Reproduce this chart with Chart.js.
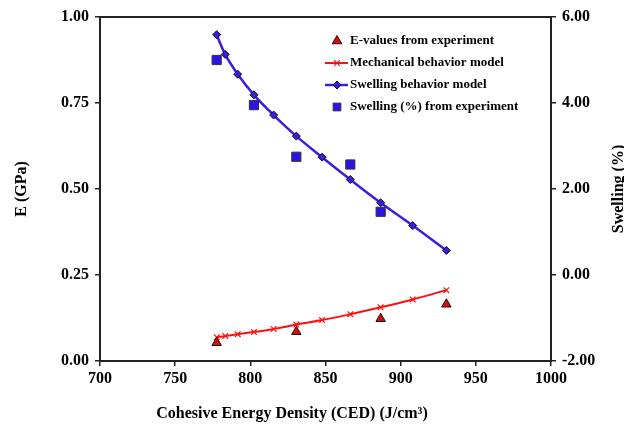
<!DOCTYPE html>
<html>
<head>
<meta charset="utf-8">
<script src="https://cdn.jsdelivr.net/npm/chart.js@4.4.0/dist/chart.umd.min.js"></script>
<style>
    html, body { margin: 0; padding: 0; background: #fff; }
    #wrap { width: 624px; height: 431px; }
</style>
</head>
<body>
<div id="wrap"><canvas id="myChart"></canvas></div>
<script>
// CED values (J/cm3) where both model curves are evaluated
const cedModel = [777.6, 783.3, 791.6, 802.4, 815.5, 830.6, 847.7, 866.5, 886.7, 908.0, 930.4];
const mechModel = [0.069, 0.073, 0.078, 0.084, 0.093, 0.106, 0.119, 0.136, 0.156, 0.179, 0.206];
const swellModel = [5.59, 5.13, 4.67, 4.19, 3.72, 3.23, 2.74, 2.22, 1.68, 1.15, 0.57];

// Experimental points
const cedExpE = [777.6, 830.6, 886.7, 930.4];
const eExp = [0.053, 0.085, 0.123, 0.165];
const cedExpSwell = [777.6, 802.4, 830.6, 866.5, 886.7];
const swellExp = [5.00, 3.95, 2.75, 2.57, 1.47];

// Tick labels
const xTicks = [700, 750, 800, 850, 900, 950, 1000];
const eTicks = [0, 0.25, 0.5, 0.75, 1.0];
const swellTicks = [-2, 0, 2, 4, 6];

const serif = 'Liberation Serif, Times New Roman, serif';
const toPoints = (xs, ys) => xs.map((x, i) => ({x: x, y: ys[i]}));

// Frame, axis titles and the legend inside the plot
const extras = {
    id: 'extras',
    beforeDatasetsDraw(chart) {
        const {ctx, chartArea: a} = chart;
        ctx.save();
        ctx.strokeStyle = '#222';
        ctx.lineWidth = 2;
        ctx.strokeRect(a.left, a.top, a.right - a.left, a.bottom - a.top);
        ctx.restore();
    },
    afterDraw(chart) {
        const {ctx, chartArea: a} = chart;
        ctx.save();
        ctx.fillStyle = '#000';
        ctx.font = 'bold 16px ' + serif;
        ctx.textAlign = 'center';
        ctx.textBaseline = 'middle';

        ctx.fillText('Cohesive Energy Density (CED) (J/cm\u00B3)', 292, 414);

        ctx.save();
        ctx.translate(22, (a.top + a.bottom) / 2);
        ctx.rotate(-Math.PI / 2);
        ctx.fillText('E (GPa)', 0, 0);
        ctx.restore();

        ctx.save();
        ctx.translate(619, (a.top + a.bottom) / 2);
        ctx.rotate(-Math.PI / 2);
        ctx.fillText('Swelling (%)', 0, 0);
        ctx.restore();

        // legend
        const lx = 337, ly = 41, gap = 22;
        ctx.font = 'bold 13px ' + serif;
        ctx.textAlign = 'left';
        chart.data.datasets.forEach((ds, i) => {
            const y = ly + i * gap;
            if (ds.showLine) {
                ctx.strokeStyle = ds.borderColor;
                ctx.lineWidth = ds.borderWidth;
                ctx.beginPath();
                ctx.moveTo(lx - 12, y);
                ctx.lineTo(lx + 11, y);
                ctx.stroke();
            }
            ctx.fillStyle = ds.pointBackgroundColor;
            ctx.strokeStyle = ds.pointBorderColor;
            ctx.lineWidth = ds.pointBorderWidth;
            Chart.helpers.drawPoint(ctx, {
                pointStyle: ds.pointStyle,
                radius: Math.min(ds.pointRadius, 5.5),
                rotation: 0,
                borderWidth: ds.pointBorderWidth
            }, lx, y);
            ctx.fillStyle = '#000';
            ctx.fillText(ds.label, lx + 13, y);
        });
        ctx.restore();
    }
};

const tickFont = {family: serif, size: 16, weight: 'bold'};

const myChart = new Chart(document.getElementById('myChart'), {
    type: 'scatter',
    data: {
        datasets: [{
            label: 'E-values from experiment',
            data: toPoints(cedExpE, eExp),
            yAxisID: 'y',
            showLine: false,
            pointStyle: 'triangle',
            pointRadius: 5.5,
            pointBackgroundColor: '#dd0a0a',
            pointBorderColor: '#111',
            pointBorderWidth: 1,
            order: 1
        }, {
            label: 'Mechanical behavior model',
            data: toPoints(cedModel, mechModel),
            yAxisID: 'y',
            showLine: true,
            tension: 0.4,
            borderColor: '#ff1010',
            borderWidth: 2,
            pointStyle: 'crossRot',
            pointRadius: 4,
            pointBackgroundColor: '#ff1010',
            pointBorderColor: '#ff1010',
            pointBorderWidth: 1.2,
            order: 3
        }, {
            label: 'Swelling behavior model',
            data: toPoints(cedModel, swellModel),
            yAxisID: 'y2',
            showLine: true,
            tension: 0.4,
            borderColor: '#3a1ee0',
            borderWidth: 2.5,
            pointStyle: 'rectRot',
            pointRadius: 4,
            pointBackgroundColor: '#3a1ee0',
            pointBorderColor: '#111',
            pointBorderWidth: 1,
            order: 2
        }, {
            label: 'Swelling (%) from experiment',
            data: toPoints(cedExpSwell, swellExp),
            yAxisID: 'y2',
            showLine: false,
            pointStyle: 'rect',
            pointRadius: 6.5,
            pointBackgroundColor: '#2c12e6',
            pointBorderColor: '#333',
            pointBorderWidth: 1,
            order: 0
        }]
    },
    options: {
        responsive: true,
        maintainAspectRatio: false,
        animation: false,
        events: [],
        layout: { padding: { top: 17, left: 0, right: 0, bottom: 0 } },
        plugins: {
            legend: { display: false },
            tooltip: { enabled: false }
        },
        scales: {
            x: {
                type: 'linear',
                position: 'bottom',
                min: 700,
                max: 1000,
                afterBuildTicks: s => { s.ticks = xTicks.map(v => ({value: v})); },
                afterFit: s => { s.height = 70; },
                grid: { drawOnChartArea: false, tickLength: 5, color: '#222', lineWidth: 1.5 },
                border: { display: true, color: '#222', width: 2 },
                ticks: { color: '#000', font: tickFont, padding: 3, maxRotation: 0, autoSkip: false, callback: v => String(v) }
            },
            y: {
                type: 'linear',
                position: 'left',
                min: 0,
                max: 1,
                afterBuildTicks: s => { s.ticks = eTicks.map(v => ({value: v})); },
                afterFit: s => { s.width = 100; },
                grid: { drawOnChartArea: false, tickLength: 5, color: '#222', lineWidth: 1.5 },
                border: { display: true, color: '#222', width: 2 },
                ticks: { color: '#000', font: tickFont, padding: 6, callback: v => v.toFixed(2) }
            },
            y2: {
                type: 'linear',
                position: 'right',
                min: -2,
                max: 6,
                afterBuildTicks: s => { s.ticks = swellTicks.map(v => ({value: v})); },
                afterFit: s => { s.width = 73; },
                grid: { drawOnChartArea: false, tickLength: 5, color: '#222', lineWidth: 1.5 },
                border: { display: true, color: '#222', width: 2 },
                ticks: { color: '#000', font: tickFont, padding: 6, callback: v => v.toFixed(2) }
            }
        }
    },
    plugins: [extras]
});
</script>
</body>
</html>
